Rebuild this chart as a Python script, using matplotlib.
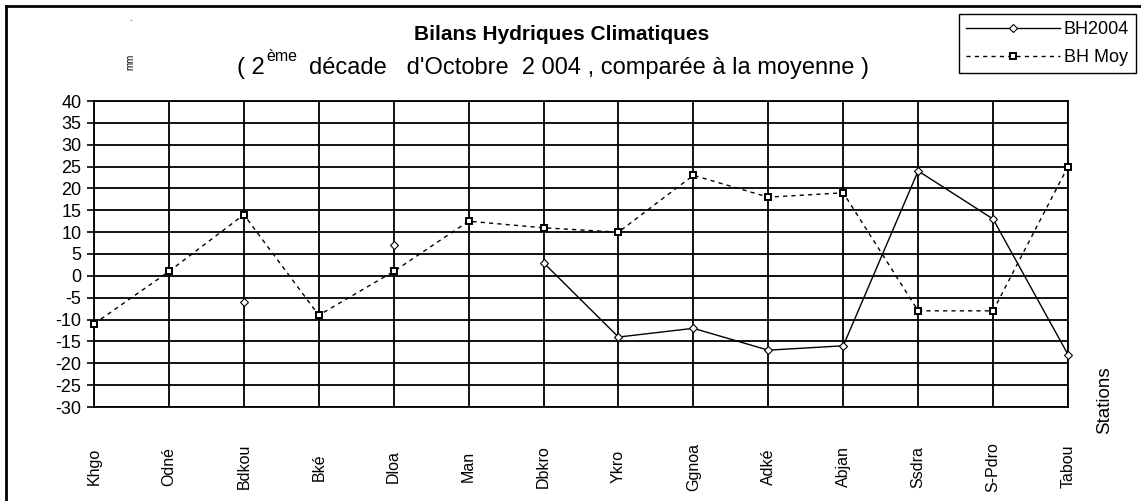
import numpy as np
import matplotlib
matplotlib.use("Agg")
import matplotlib.pyplot as plt
from matplotlib.lines import Line2D

plt.rcParams["font.family"] = ["Liberation Sans", "DejaVu Sans"]
plt.rcParams["axes.unicode_minus"] = False

stations = ["Khgo", "Odné", "Bdkou", "Bké", "Dloa", "Man", "Dbkro",
            "Ykro", "Ggnoa", "Adké", "Abjan", "Ssdra", "S-Pdro", "Tabou"]
bh2004 = [np.nan, np.nan, -6, np.nan, 7, np.nan, 3,
          -14, -12, -17, -16, 24, 13, -18]
bh_moy = [-11, 1, 14, -9, 1, 12.5, 11, 10, 23, 18, 19, -8, -8, 25]
y_ticks = list(range(-30, 45, 5))

W, H = 1141, 501


def main() -> None:
    fig = plt.figure(figsize=(W / 100, H / 100), dpi=100)
    ax = fig.add_axes([94 / W, 1 - 407 / H, (1068 - 94) / W, (407 - 101) / H])

    x = np.arange(len(stations))
    ax.plot(x, bh2004, color="black", lw=1.0, marker="D", ms=4.5,
            mfc="white", mec="black", mew=0.8, label="BH2004", clip_on=False,
            zorder=3)
    ax.plot(x, bh_moy, color="black", lw=1.0, ls=(0, (3, 3)), marker="s", ms=4.5,
            mfc="white", mec="black", mew=1.4, label="BH Moy", clip_on=False,
            zorder=3)

    ax.set_xlim(0, len(stations) - 1)
    ax.set_ylim(-30, 40)
    ax.set_yticks(y_ticks)
    ax.set_xticks(x)
    ax.set_xticklabels(stations, rotation=90, va="center", fontsize=11.5)
    ax.tick_params(axis="x", length=0, pad=43)
    ax.tick_params(axis="y", length=5, width=1.2, pad=4, labelsize=13)
    ax.grid(True, color="black", lw=1.3)
    ax.set_axisbelow(True)
    for sp in ax.spines.values():
        sp.set_linewidth(1.3)

    fig.text(562 / W, 1 - 35 / H, "Bilans Hydriques Climatiques",
             ha="center", va="center", fontsize=15, fontweight="bold")
    fig.text(237 / W, 1 - 74 / H, "( 2", ha="left", va="baseline", fontsize=17)
    fig.text(266 / W, 1 - 61 / H, "ème", ha="left", va="baseline", fontsize=11.5)
    fig.text(309 / W, 1 - 74 / H,
             "décade   d'Octobre  2 004 , comparée à la moyenne )",
             ha="left", va="baseline", fontsize=17)
    fig.text(130 / W, 1 - 62 / H, "mm", rotation=90, ha="center", va="center",
             fontsize=7)
    fig.text(130 / W, 1 - 18 / H, ".", ha="center", va="center", fontsize=7)
    fig.text(1105 / W, 1 - 400 / H, "Stations", rotation=90,
             ha="center", va="center", fontsize=13.5)

    leg = fig.legend(loc="upper right", bbox_to_anchor=(1136 / W, 1 - 14 / H),
                     fontsize=13, handlelength=5.2, frameon=True, fancybox=False,
                     framealpha=1, edgecolor="black", borderpad=0.4,
                     labelspacing=0.6, handletextpad=0.2, borderaxespad=0)
    leg.get_frame().set_linewidth(1.0)

    # cadre de la figure (gauche et haut)
    fig.add_artist(Line2D([6 / W, 6 / W], [0, 1 - 6 / H], color="black", lw=2))
    fig.add_artist(Line2D([6 / W, 1], [1 - 6 / H, 1 - 6 / H], color="black", lw=2))

    fig.savefig("out.png", dpi=100)
    plt.close(fig)


if __name__ == "__main__":
    main()
